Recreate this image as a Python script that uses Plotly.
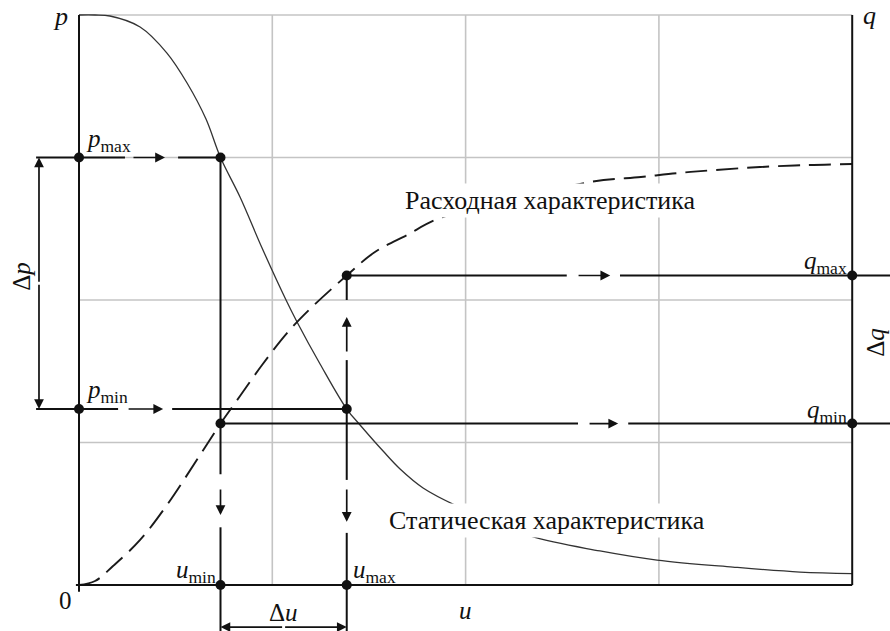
import plotly.graph_objects as go

# ---------------- data ----------------
# static characteristic p(u)
U_STATIC = [0.0, 0.083, 0.160, 0.316, 0.455, 0.559, 0.657, 0.732, 0.833, 0.947, 1.071,
            1.128, 1.247, 1.385, 1.454, 1.573, 1.661, 1.780, 1.956, 2.333, 2.695, 2.990,
            3.383, 3.730, 4.0]
P_STATIC = [4.0, 4.0, 3.993, 3.916, 3.733, 3.523, 3.270, 3.0, 2.723, 2.365, 2.0,
            1.846, 1.551, 1.235, 1.123, 0.940, 0.814, 0.681, 0.554, 0.344, 0.239, 0.175,
            0.126, 0.091, 0.08]
# flow characteristic q(u)
U_FLOW = [0.0, 0.083, 0.176, 0.316, 0.455, 0.626, 0.732, 0.833, 0.947, 1.076, 1.195,
          1.385, 1.531, 1.697, 1.868, 2.644, 2.907, 3.099, 3.290, 3.523, 3.761, 4.0]
Q_FLOW = [0.0, 0.028, 0.133, 0.316, 0.561, 0.912, 1.133, 1.326, 1.544, 1.768, 1.937,
          2.172, 2.337, 2.456, 2.575, 2.828, 2.863, 2.891, 2.912, 2.933, 2.947, 2.954]

U_MIN, U_MAX = 0.732, 1.385
P_MIN, P_MAX = 1.235, 3.0
Q_MIN, Q_MAX = 1.133, 2.172
U_END, P_END = 4.0, 4.0
GRID_U = [1, 2, 3]
GRID_P = [1, 2, 3, 4]

LABEL_FLOW = "Расходная характеристика"
LABEL_STATIC = "Статическая характеристика"

# ---------------- layout constants ----------------
X_RANGE = [-0.4087, 4.1955]
Y_RANGE = [-0.3228, 4.1053]
DIM_P_X = -0.207     # position of the Δp dimension line
EXT_X = -0.222       # left end of the p-level construction lines
DIM_U_Y = -0.295     # position of the Δu dimension line

FONT = "Liberation Serif"
INK = "#111111"
GRID_C = "#c4c4c4"

fig = go.Figure()


def add_line(xs, ys, color=INK, width=2.0, dash="solid", shape="linear"):
    fig.add_trace(go.Scatter(x=xs, y=ys, mode="lines", hoverinfo="skip",
                             line=dict(color=color, width=width, dash=dash, shape=shape)))


# grid
gx, gy = [], []
for u in GRID_U:
    gx += [u, u, None]
    gy += [0, P_END, None]
for p in GRID_P:
    gx += [0, U_END, None]
    gy += [p, p, None]
add_line(gx, gy, color=GRID_C, width=1.6)

# characteristics
add_line(U_STATIC, P_STATIC, color="#333333", width=1.3, shape="spline")
add_line(U_FLOW, Q_FLOW, color="#1a1a1a", width=1.9, dash="22px,9px", shape="spline")

# axes
add_line([0, 0, None, -0.016, U_END, None, U_END, U_END],
         [P_END, -0.047, None, 0, 0, None, 0, P_END], width=2.0)


def along(a, b, t):
    return a[0] + (b[0] - a[0]) * t, a[1] + (b[1] - a[1]) * t


def arrow(head, tail):
    fig.add_annotation(x=head[0], y=head[1], ax=tail[0], ay=tail[1],
                       xref="x", yref="y", axref="x", ayref="y", text="",
                       showarrow=True, arrowhead=2, arrowsize=1.15,
                       arrowwidth=1.7, arrowcolor=INK, standoff=0)


# construction lines: (start, end, solid pieces, arrows as (t_tail, t_head))
CONSTR = [
    ((EXT_X, P_MAX), (U_MIN, P_MAX), [(0, 0.482), (0.770, 1)], [(0.520, 0.699)]),
    ((EXT_X, P_MIN), (U_MAX, P_MIN), [(0, 0.264), (0.438, 1)], [(0.293, 0.409)]),
    ((U_MIN, Q_MIN), (X_RANGE[1], Q_MIN), [(0, 0.534), (0.609, 1)], [(0.549, 0.594)]),
    ((U_MAX, Q_MAX), (X_RANGE[1], Q_MAX), [(0, 0.405), (0.503, 1)], [(0.424, 0.485)]),
    ((U_MIN, P_MAX), (U_MIN, Y_RANGE[0]), [(0, 0.669), (0.781, 1)], [(0.698, 0.755)]),
    ((U_MAX, Q_MAX), (U_MAX, Y_RANGE[0]), [(0, 0.069), (0.238, 0.575), (0.724, 1)],
     [(0.218, 0.117), (0.598, 0.693)]),
]
cx, cy = [], []
for a, b, solids, arrows in CONSTR:
    for t0, t1 in solids:
        x0, y0 = along(a, b, t0)
        x1, y1 = along(a, b, t1)
        cx += [x0, x1, None]
        cy += [y0, y1, None]
    for tt, th in arrows:
        arrow(along(a, b, th), along(a, b, tt))
add_line(cx, cy, width=2.0)

# dimension lines Δp and Δu
mid_p = (P_MAX + P_MIN) / 2
arrow((DIM_P_X, P_MAX), (DIM_P_X, mid_p))
arrow((DIM_P_X, P_MIN), (DIM_P_X, mid_p))
mid_u = (U_MIN + U_MAX) / 2
arrow((U_MIN, DIM_U_Y), (mid_u, DIM_U_Y))
arrow((U_MAX, DIM_U_Y), (mid_u, DIM_U_Y))

# points
DOTS_U = [0, 0, U_MIN, U_MIN, U_MAX, U_MAX, U_END, U_END, U_MIN, U_MAX]
DOTS_V = [P_MAX, P_MIN, P_MAX, Q_MIN, Q_MAX, P_MIN, Q_MAX, Q_MIN, 0, 0]
fig.add_trace(go.Scatter(x=DOTS_U, y=DOTS_V, mode="markers", hoverinfo="skip",
                         marker=dict(color="#111111", size=10)))


def label(text, x, y, size=25, xanchor="center", yanchor="middle", angle=0, **kw):
    fig.add_annotation(text=text, x=x, y=y, xref="x", yref="y", showarrow=False,
                       xanchor=xanchor, yanchor=yanchor, textangle=angle,
                       font=dict(family=FONT, size=size, color=INK), **kw)


label("<i>p</i>", -0.098, 3.99, size=26)
label("<i>q</i>", 4.09, 4.0, size=26)
label("0", -0.068, -0.11)
label("<i>u</i>", 1.997, -0.18)
label("<i>p</i><sub>max</sub>", 0.026, P_MAX + 0.116, xanchor="left")
label("<i>p</i><sub>min</sub>", 0.026, P_MIN + 0.126, xanchor="left")
label("<i>u</i><sub>min</sub>", U_MIN - 0.013, 0.098, xanchor="right")
label("<i>u</i><sub>max</sub>", U_MAX + 0.02, 0.098, xanchor="left")
label("<i>q</i><sub>max</sub>", U_END - 0.017, Q_MAX + 0.088, xanchor="right")
label("<i>q</i><sub>min</sub>", U_END - 0.017, Q_MIN + 0.088, xanchor="right")
label("Δ<i>u</i>", mid_u, DIM_U_Y + 0.1)
label("Δ<i>p</i>", DIM_P_X - 0.09, mid_p + 0.05, angle=-90)
label("Δ<i>q</i>", 4.12, (Q_MIN + Q_MAX) / 2 + 0.05, angle=-90)
label(LABEL_FLOW, 2.437, 2.7, size=26, bgcolor="white", borderpad=2)
label(LABEL_STATIC, 2.422, 0.455, size=26, bgcolor="white", borderpad=2)

fig.update_layout(
    width=890, height=631, margin=dict(l=0, r=0, t=0, b=0),
    font=dict(family=FONT, color=INK),
    paper_bgcolor="white", plot_bgcolor="white", showlegend=False,
    xaxis=dict(range=X_RANGE, visible=False, fixedrange=True),
    yaxis=dict(range=Y_RANGE, visible=False, fixedrange=True),
)

fig.write_html("out.html")
